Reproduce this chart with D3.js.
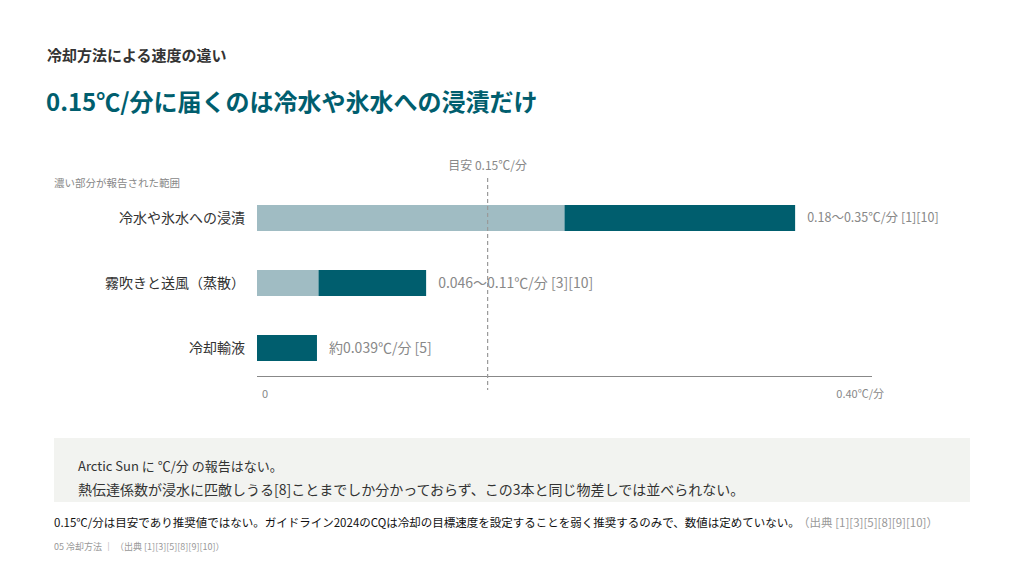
<!DOCTYPE html>
<html>
<head>
<meta charset="utf-8">
<script src="https://cdn.jsdelivr.net/npm/d3@7"></script>
<style>
	body{margin:0;background:#fff;}
	text{font-family:"Noto Sans CJK JP","Noto Sans",sans-serif;}
</style>
</head>
<body>
<div id="chart_div"></div>
<script>
////////////////////////////////////////
// data
////////////////////////////////////////

var categories = ['冷水や氷水への浸漬','霧吹きと送風（蒸散）','冷却輸液'];
// light part: 0 to lightEnd, dark part: lightEnd to darkEnd (as drawn)
var lightEnd = [0.20, 0.040, 0];
var darkEnd = [0.35, 0.11, 0.039];
var valueLabels = ['0.18〜0.35℃/分 [1][10]','0.046〜0.11℃/分 [3][10]','約0.039℃/分 [5]'];
var targetValue = 0.15;
var tickValues = [0, 0.40];
var tickLabels = ['0','0.40℃/分'];

////////////////////////////////////////
// svg
////////////////////////////////////////

var w = 1024;
var h = 576;
var teal = '#005e6e';
var lightTeal = '#a0bcc3';

var vis = d3.select('#chart_div')
	.append('svg')
	.attr('width',w)
	.attr('height',h);

var x = d3.scaleLinear()
	.domain([0,0.40])
	.range([257,872]);

var y = d3.scaleBand()
	.domain(categories)
	.range([185.5,380.5])
	.paddingInner(0.6)
	.paddingOuter(0.3);

////////////////////////////////////////
// titles
////////////////////////////////////////

vis.append('text')
	.attr('x',47)
	.attr('y',61)
	.attr('font-size',15)
	.attr('font-weight','bold')
	.attr('fill','#333')
	.text('冷却方法による速度の違い');

vis.append('text')
	.attr('x',46)
	.attr('y',111)
	.attr('font-size',24)
	.attr('font-weight','bold')
	.attr('fill',teal)
	.text('0.15℃/分に届くのは冷水や氷水への浸漬だけ');

vis.append('text')
	.attr('x',54)
	.attr('y',187)
	.attr('font-size',10.5)
	.attr('fill','#888')
	.text('濃い部分が報告された範囲');

////////////////////////////////////////
// bars
////////////////////////////////////////

var rows = categories.map(function(c,i){
	return {cat:c, lo:lightEnd[i], hi:darkEnd[i], label:valueLabels[i]};
});

vis.selectAll('rect.light_rect')
	.data(rows)
	.enter()
		.append('rect')
		.attr('class','light_rect')
		.attr('x',x(0))
		.attr('y',function(d){ return y(d.cat); })
		.attr('width',function(d){ return x(d.lo)-x(0); })
		.attr('height',y.bandwidth())
		.attr('fill',lightTeal);

vis.selectAll('rect.dark_rect')
	.data(rows)
	.enter()
		.append('rect')
		.attr('class','dark_rect')
		.attr('x',function(d){ return x(d.lo); })
		.attr('y',function(d){ return y(d.cat); })
		.attr('width',function(d){ return x(d.hi)-x(d.lo); })
		.attr('height',y.bandwidth())
		.attr('fill',teal);

vis.selectAll('text.cat_text')
	.data(rows)
	.enter()
		.append('text')
		.attr('class','cat_text')
		.attr('x',245)
		.attr('y',function(d){ return y(d.cat)+y.bandwidth()/2; })
		.attr('dy','0.35em')
		.attr('text-anchor','end')
		.attr('font-size',14)
		.attr('fill','#333')
		.text(function(d){ return d.cat; });

vis.selectAll('text.value_text')
	.data(rows)
	.enter()
		.append('text')
		.attr('class','value_text')
		.attr('x',function(d){ return x(d.hi)+12; })
		.attr('y',function(d){ return y(d.cat)+y.bandwidth()/2; })
		.attr('dy','0.35em')
		.attr('font-size',function(d,i){ return i===0?12.5:14; })
		.attr('fill','#888')
		.text(function(d){ return d.label; });

////////////////////////////////////////
// axis and target line
////////////////////////////////////////

vis.append('line')
	.attr('x1',x(0))
	.attr('x2',x(0.40))
	.attr('y1',376.5)
	.attr('y2',376.5)
	.attr('stroke','#888')
	.attr('stroke-width',1);

vis.selectAll('text.tick_text')
	.data(tickValues)
	.enter()
		.append('text')
		.attr('class','tick_text')
		.attr('x',function(d,i){ return i===0 ? x(d)+5 : x(d)+12; })
		.attr('y',398)
		.attr('text-anchor',function(d,i){ return i===0?'start':'end'; })
		.attr('font-size',11)
		.attr('fill','#888')
		.text(function(d,i){ return tickLabels[i]; });

vis.append('line')
	.attr('x1',x(targetValue))
	.attr('x2',x(targetValue))
	.attr('y1',178)
	.attr('y2',390)
	.attr('stroke','#999')
	.attr('stroke-width',1.2)
	.attr('stroke-dasharray','4,3');

vis.append('text')
	.attr('x',x(targetValue))
	.attr('y',170)
	.attr('text-anchor','middle')
	.attr('font-size',12)
	.attr('fill','#888')
	.text('目安 0.15℃/分');

////////////////////////////////////////
// note box and footer
////////////////////////////////////////

vis.append('rect')
	.attr('x',54)
	.attr('y',438)
	.attr('width',916)
	.attr('height',64)
	.attr('fill','#f2f3f0');

vis.append('text')
	.attr('x',78)
	.attr('y',471)
	.attr('font-size',13)
	.attr('fill','#333')
	.text('Arctic Sun に ℃/分 の報告はない。');

vis.append('text')
	.attr('x',78)
	.attr('y',495)
	.attr('font-size',14)
	.attr('fill','#333')
	.text('熱伝達係数が浸水に匹敵しうる[8]ことまでしか分かっておらず、この3本と同じ物差しでは並べられない。');

var foot = vis.append('text')
	.attr('x',54)
	.attr('y',527)
	.attr('font-size',11.5)
	.attr('fill','#111');
foot.append('tspan')
	.text('0.15℃/分は目安であり推奨値ではない。ガイドライン2024のCQは冷却の目標速度を設定することを弱く推奨するのみで、数値は定めていない。');
foot.append('tspan')
	.attr('dx',4)
	.attr('fill','#999')
	.text('（出典 [1][3][5][8][9][10]）');

vis.append('text')
	.attr('x',54)
	.attr('y',550)
	.attr('font-size',9)
	.attr('fill','#999')
	.text('05 冷却方法 ｜ （出典 [1][3][5][8][9][10]）');
</script>
</body>
</html>
